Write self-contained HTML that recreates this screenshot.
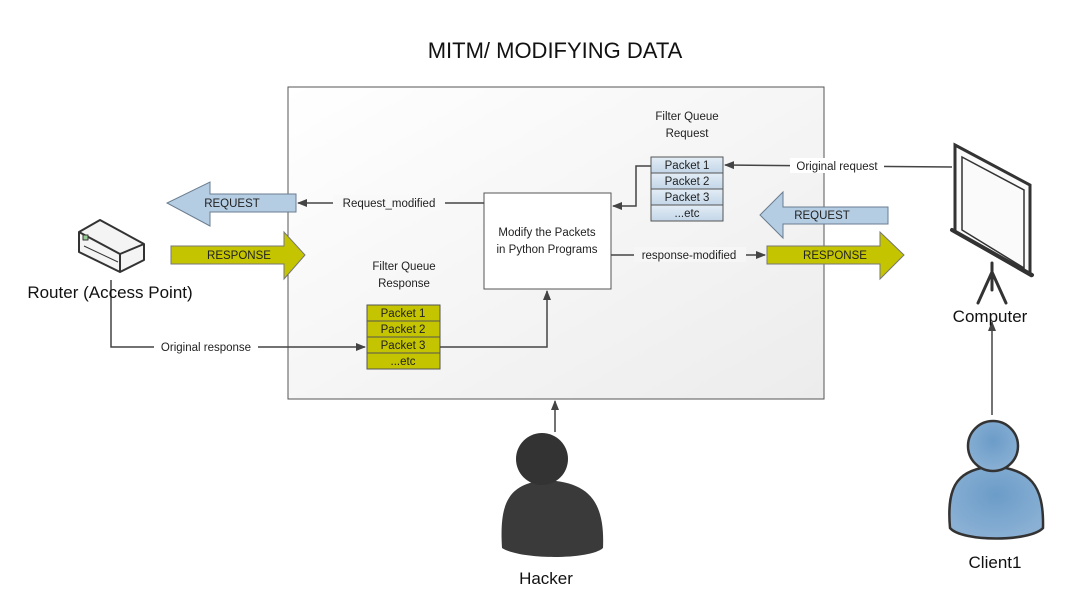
<!DOCTYPE html>
<html><head><meta charset="utf-8"><style>
body{margin:0;background:#fff;width:1090px;height:602px;overflow:hidden;font-family:"Liberation Sans",sans-serif}
</style></head><body>
<svg width="1090" height="602" viewBox="0 0 1090 602" xmlns="http://www.w3.org/2000/svg" font-family="Liberation Sans, sans-serif">
<defs>
<linearGradient id="bg" x1="0" y1="0" x2="1" y2="1"><stop offset="0" stop-color="#ffffff"/><stop offset="1" stop-color="#ececec"/></linearGradient>
<linearGradient id="bl" x1="0" y1="0" x2="0" y2="1"><stop offset="0" stop-color="#e3edf6"/><stop offset="1" stop-color="#c3d6e8"/></linearGradient>
<radialGradient id="pg" cx="0.5" cy="0.4" r="0.6"><stop offset="0" stop-color="#333"/><stop offset="1" stop-color="#3a3a3a"/></radialGradient>
<radialGradient id="pb" cx="0.5" cy="0.4" r="0.6"><stop offset="0" stop-color="#6b9cc8"/><stop offset="1" stop-color="#8ab0d4"/></radialGradient>
<marker id="ar" markerWidth="10" markerHeight="10" refX="9" refY="5" orient="auto" markerUnits="userSpaceOnUse"><path d="M0,1 L10,5 L0,9 z" fill="#444"/></marker>
</defs>
<text x="555" y="58" font-size="22" text-anchor="middle" fill="#111">MITM/ MODIFYING DATA</text>
<rect x="288" y="87" width="536" height="312" fill="url(#bg)" stroke="#555" stroke-width="1"/>
<rect x="484" y="193" width="127" height="96" fill="#fff" stroke="#555"/>
<text font-size="11.5" text-anchor="middle" fill="#222"><tspan x="547" y="236">Modify the Packets</tspan><tspan x="547" y="253">in Python Programs</tspan></text>
<text font-size="11.5" text-anchor="middle" fill="#222"><tspan x="687" y="120">Filter Queue</tspan><tspan x="687" y="137">Request</tspan></text>
<g stroke="#555" fill="url(#bl)">
<rect x="651" y="157" width="72" height="16"/><rect x="651" y="173" width="72" height="16"/><rect x="651" y="189" width="72" height="16"/><rect x="651" y="205" width="72" height="16"/></g>
<g font-size="11.5" text-anchor="middle" fill="#222"><text x="687" y="169">Packet 1</text><text x="687" y="185">Packet 2</text><text x="687" y="201">Packet 3</text><text x="687" y="217">...etc</text></g>
<text font-size="11.5" text-anchor="middle" fill="#222"><tspan x="404" y="270">Filter Queue</tspan><tspan x="404" y="287">Response</tspan></text>
<g stroke="#555" fill="#c4c400">
<rect x="367" y="305" width="73" height="16"/><rect x="367" y="321" width="73" height="16"/><rect x="367" y="337" width="73" height="16"/><rect x="367" y="353" width="73" height="16"/></g>
<g font-size="11.5" text-anchor="middle" fill="#222"><text x="403" y="317">Packet 1</text><text x="403" y="333">Packet 2</text><text x="403" y="349">Packet 3</text><text x="403" y="365">...etc</text></g>
<path d="M296,194 L210,194 L210,182 L167,203 L210,226 L210,212 L296,212 z" fill="#b5cde3" stroke="#6a7d90"/>
<text x="232" y="207" font-size="11.5" text-anchor="middle" fill="#222">REQUEST</text>
<path d="M171,246 L284,246 L284,232 L305,255 L284,279 L284,264 L171,264 z" fill="#c4c400" stroke="#777"/>
<text x="239" y="259" font-size="11.5" text-anchor="middle" fill="#222">RESPONSE</text>
<path d="M888,207 L783,207 L783,192 L760,215 L783,238 L783,224 L888,224 z" fill="#b5cde3" stroke="#6a7d90"/>
<text x="822" y="219" font-size="11.5" text-anchor="middle" fill="#222">REQUEST</text>
<path d="M767,246 L880,246 L880,232 L904,255 L880,279 L880,264 L767,264 z" fill="#c4c400" stroke="#777"/>
<text x="835" y="259" font-size="11.5" text-anchor="middle" fill="#222">RESPONSE</text>
<g stroke="#444" stroke-width="1.5" fill="none">
<path d="M484,203 L298,203" marker-end="url(#ar)"/>
<path d="M952,167 L725,165" marker-end="url(#ar)"/>
<path d="M651,166 L636,166 L636,206 L613,206" marker-end="url(#ar)"/>
<path d="M611,255 L765,255" marker-end="url(#ar)"/>
<path d="M111,280 L111,347 L365,347" marker-end="url(#ar)"/>
<path d="M440,347 L547,347 L547,291" marker-end="url(#ar)"/>
<path d="M555,432 L555,401" marker-end="url(#ar)"/>
<path d="M992,415 L992,322" marker-end="url(#ar)"/>
</g>
<g font-size="11.5" fill="#222" text-anchor="middle">
<rect x="333" y="195" width="112" height="15" fill="#f9f9f9"/><text x="389" y="207">Request_modified</text>
<rect x="790" y="158" width="94" height="15" fill="#fff"/><text x="837" y="170">Original request</text>
<rect x="634" y="247" width="112" height="15" fill="#f6f6f6"/><text x="689" y="259">response-modified</text>
<rect x="154" y="339" width="104" height="15" fill="#fff"/><text x="206" y="351">Original response</text>
</g>
<!-- router -->
<g stroke="#333" stroke-width="2" stroke-linejoin="round">
<path d="M79,232 L100,220 L144,244 L144,260 L120,272 L79,252 z" fill="#f4f4f4"/>
<path d="M79,232 L120,254 L144,244 M120,254 L120,272" fill="none"/>
<path d="M84,246 L118,262" fill="none" stroke-width="1"/>
<rect x="83" y="235" width="5" height="5" fill="#9c9" stroke-width="1"/>
</g>
<text x="110" y="298" font-size="17" text-anchor="middle" fill="#111">Router (Access Point)</text>
<!-- screen -->
<g stroke="#333" fill="none" stroke-linecap="round">
<path d="M992,263 L992,290 M992,272 L978,303 M992,272 L1006,303" stroke-width="3"/>
<path d="M955,145 L1030,185 L1030,275 L955,232 z" fill="#fafafa" stroke-width="3"/>
<path d="M962,157 L1024,190 L1024,268 L962,230 z" stroke-width="1.5"/>
<path d="M952,230 L1032,275" stroke-width="4"/>
</g>
<text x="990" y="322" font-size="17" text-anchor="middle" fill="#111">Computer</text>
<!-- hacker -->
<path d="M502,548 C499,500 510,484 545,480 C588,482 605,500 603,548 C590,560 520,560 502,548 z" fill="#3a3a3a"/>
<circle cx="542" cy="459" r="26" fill="#333"/>
<text x="546" y="584" font-size="17" text-anchor="middle" fill="#111">Hacker</text>
<!-- client -->
<path d="M950,528 C946,482 960,470 993,466 C1030,470 1044,484 1043,528 C1030,542 962,542 950,528 z" fill="url(#pb)" stroke="#333" stroke-width="2.5"/>
<circle cx="993" cy="446" r="25" fill="url(#pb)" stroke="#333" stroke-width="2.5"/>
<text x="995" y="568" font-size="17" text-anchor="middle" fill="#111">Client1</text>
</svg>
</body></html>
